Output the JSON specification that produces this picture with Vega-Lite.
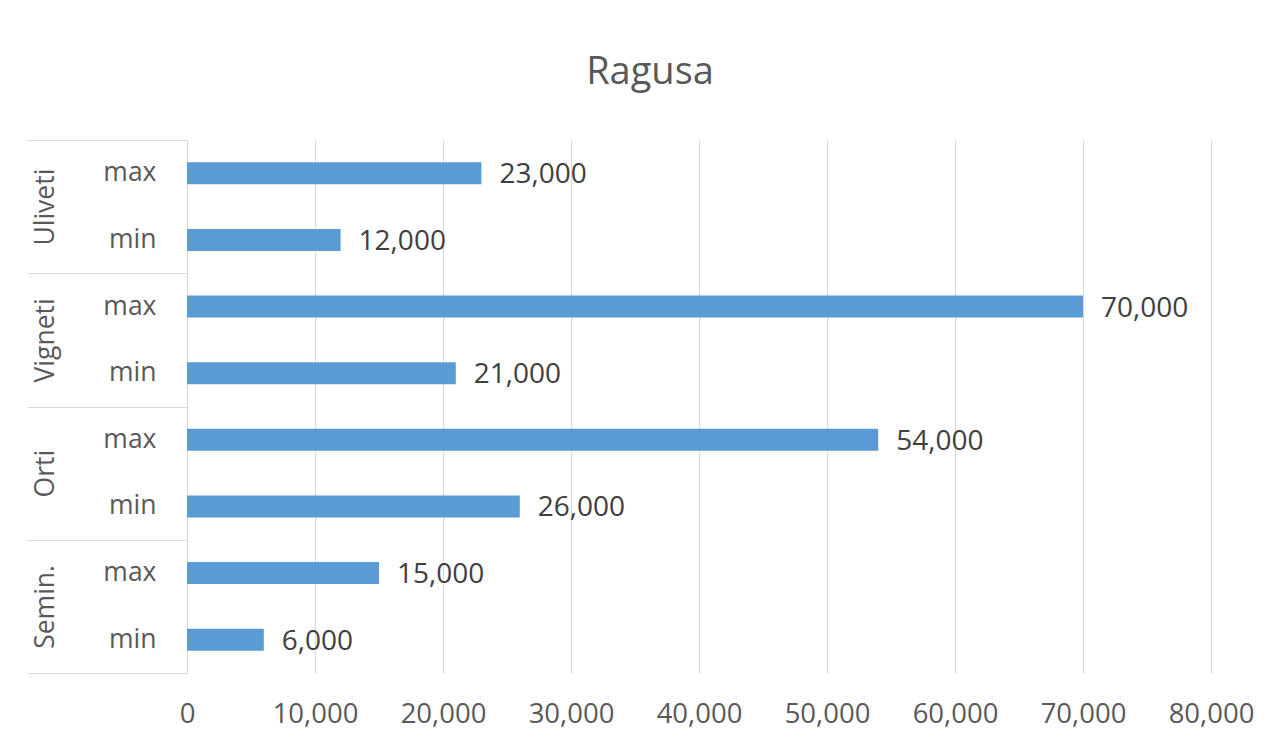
{
  "$schema": "https://vega.github.io/schema/vega-lite/v6.json",
  "width": 1024,
  "height": 533,
  "autosize": "none",
  "padding": {"left": 187, "top": 140, "right": 68, "bottom": 72},
  "background": "white",
  "config": {"view": {"stroke": null}},
  "title": {
    "text": "Ragusa",
    "font": "Open Sans",
    "fontSize": 38,
    "fontWeight": "normal",
    "color": "#595959",
    "anchor": "middle",
    "frame": "group",
    "dx": -49,
    "offset": 18,
    "baseline": "alphabetic"
  },
  "data": {
    "values": [
      {"row": "Uliveti max", "group": "Uliveti", "level": "max", "value": 23000},
      {"row": "Uliveti min", "group": "Uliveti", "level": "min", "value": 12000},
      {"row": "Vigneti max", "group": "Vigneti", "level": "max", "value": 70000},
      {"row": "Vigneti min", "group": "Vigneti", "level": "min", "value": 21000},
      {"row": "Orti max", "group": "Orti", "level": "max", "value": 54000},
      {"row": "Orti min", "group": "Orti", "level": "min", "value": 26000},
      {"row": "Semin. max", "group": "Semin.", "level": "max", "value": 15000},
      {"row": "Semin. min", "group": "Semin.", "level": "min", "value": 6000}
    ]
  },
  "layer": [
    {
      "layer": [
        {
          "mark": {"type": "bar", "color": "#5b9bd5", "size": 22},
          "encoding": {
            "y": {
              "field": "row",
              "type": "nominal",
              "sort": null,
              "scale": {"paddingInner": 0, "paddingOuter": 0},
              "axis": {
                "orient": "left",
                "title": null,
                "ticks": false,
                "tickSize": 0,
                "domain": true,
                "domainColor": "#d9d9d9",
                "domainWidth": 1,
                "labelExpr": "split(datum.value, ' ')[1]",
                "labelPadding": 31,
                "labelAlign": "right",
                "labelFont": "Open Sans",
                "labelFontSize": 26.5,
                "labelColor": "#595959",
                "grid": false
              }
            },
            "x": {
              "field": "value",
              "type": "quantitative",
              "scale": {"domain": [0, 80000], "nice": false},
              "axis": {
                "title": null,
                "values": [0, 10000, 20000, 30000, 40000, 50000, 60000, 70000, 80000],
                "labelExpr": "format(datum.value, ',.0f')",
                "grid": true,
                "gridColor": "#d9d9d9",
                "gridWidth": 1,
                "domain": false,
                "ticks": false,
                "tickSize": 0,
                "labelPadding": 27,
                "labelFlush": false,
                "labelOverlap": false,
                "labelFont": "Open Sans",
                "labelFontSize": 27.5,
                "labelColor": "#595959"
              }
            }
          }
        },
        {
          "mark": {
            "type": "text",
            "align": "left",
            "baseline": "middle",
            "dx": 18,
            "dy": 2,
            "font": "Open Sans",
            "fontSize": 28,
            "color": "#404040"
          },
          "encoding": {
            "y": {"field": "row", "type": "nominal", "sort": null},
            "x": {"field": "value", "type": "quantitative"},
            "text": {"field": "value", "type": "quantitative", "format": ",.0f"}
          }
        }
      ]
    },
    {
      "mark": {"type": "text", "text": "", "opacity": 0},
      "encoding": {
        "y": {
          "field": "group",
          "type": "nominal",
          "sort": null,
          "scale": {"paddingInner": 0, "paddingOuter": 0},
          "axis": {
            "orient": "left",
            "title": null,
            "domain": false,
            "ticks": true,
            "tickBand": "extent",
            "tickSize": 160,
            "tickColor": "#d9d9d9",
            "tickWidth": 1,
            "labelAngle": 270,
            "labelAlign": "center",
            "labelBaseline": "alphabetic",
            "labelPadding": -26,
            "labelFont": "Open Sans",
            "labelFontSize": 26.5,
            "labelColor": "#595959",
            "grid": false
          }
        }
      }
    }
  ],
  "resolve": {"scale": {"y": "independent"}, "axis": {"y": "independent"}}
}
